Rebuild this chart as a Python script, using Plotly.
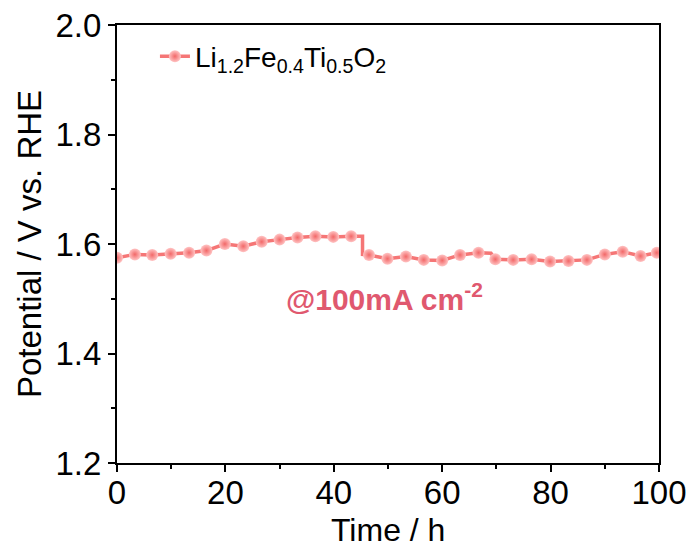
import plotly.graph_objects as go

# Sampled points shown with markers (time in h, potential in V vs. RHE)
marker_time = [0, 3.3, 6.5, 9.9, 13.3, 16.5, 19.9, 23.3, 26.7, 30.0, 33.3, 36.6,
               39.9, 43.2, 46.5, 49.9, 53.3, 56.6, 60.0, 63.3, 66.7, 69.8, 73.1,
               76.5, 79.9, 83.3, 86.7, 90.0, 93.3, 96.6, 99.6]
marker_potential = [1.575, 1.581, 1.580, 1.582, 1.584, 1.588, 1.600, 1.596, 1.604,
                    1.608, 1.612, 1.614, 1.613, 1.614, 1.580, 1.573, 1.577, 1.571,
                    1.570, 1.580, 1.584, 1.572, 1.571, 1.572, 1.568, 1.569, 1.571,
                    1.581, 1.586, 1.578, 1.584]

# Extra points of the continuous curve (steps between samples)
step_time = [45.3, 45.3, 69.0]
step_potential = [1.614, 1.581, 1.583]

series_name = "Li<sub>1.2</sub>Fe<sub>0.4</sub>Ti<sub>0.5</sub>O<sub>2</sub>"
note_text = "@100mA cm<sup>-2</sup>"
x_title = "Time / h"
y_title = "Potential / V vs. RHE"
x_ticks = [0, 20, 40, 60, 80, 100]
y_ticks = [1.2, 1.4, 1.6, 1.8, 2.0]

# full curve = samples + step points, sorted by time (stable to keep step order)
path = sorted(list(zip(marker_time, marker_potential)) + list(zip(step_time, step_potential)),
              key=lambda p: p[0])
path_t = [p[0] for p in path]
path_v = [p[1] for p in path]

LINE = "#F57676"
FONT = "Arial, Liberation Sans, sans-serif"
MARKER = dict(size=12, color="#FFC4C4",
              gradient=dict(type="radial", color="#F26868"),
              line=dict(width=0))

fig = go.Figure()
fig.add_trace(go.Scatter(x=path_t, y=path_v, mode="lines",
                         line=dict(color=LINE, width=3.5), showlegend=False,
                         hoverinfo="skip"))
fig.add_trace(go.Scatter(x=marker_time, y=marker_potential, mode="markers",
                         marker=MARKER, showlegend=False))
fig.add_trace(go.Scatter(x=[None], y=[None], mode="lines+markers", name=series_name,
                         line=dict(color=LINE, width=3.5), marker=MARKER))

fig.add_annotation(x=49.4, y=1.503, text=note_text, showarrow=False,
                   font=dict(family=FONT, size=30, color="#E0586F", weight="bold"))
fig.add_annotation(x=0.5, y=-0.153, xref="paper", yref="paper", text=x_title,
                   showarrow=False, xanchor="center", yanchor="middle",
                   font=dict(family=FONT, size=32, color="black"))

axis_common = dict(showline=True, linecolor="black", linewidth=2, mirror=True,
                   ticks="outside", ticklen=7, tickwidth=2, tickcolor="black",
                   showgrid=False, zeroline=False, automargin=False,
                   tickfont=dict(family=FONT, size=33, color="black"),
                   title_font=dict(family=FONT, size=33, color="black"))

fig.update_xaxes(range=[0, 100], tickvals=x_ticks, ticklabelstandoff=-8,
                 minor=dict(ticks="outside", ticklen=4, tickwidth=2, tickcolor="black", dtick=10),
                 **axis_common)
fig.update_yaxes(range=[1.2, 2.0], tickvals=y_ticks, tickformat=".1f",
                 title_text=y_title,
                 minor=dict(ticks="outside", ticklen=4, tickwidth=2, tickcolor="black", dtick=0.1),
                 title_standoff=4, **axis_common)

fig.update_layout(
    width=695, height=551,
    margin=dict(l=117, r=36, t=25, b=88),
    plot_bgcolor="white", paper_bgcolor="white",
    font=dict(family=FONT, color="black"),
    legend=dict(x=0.07, y=0.985, xanchor="left", yanchor="top",
                font=dict(family=FONT, size=28, color="black"),
                bgcolor="rgba(0,0,0,0)"),
)

fig.write_html("out.html")
